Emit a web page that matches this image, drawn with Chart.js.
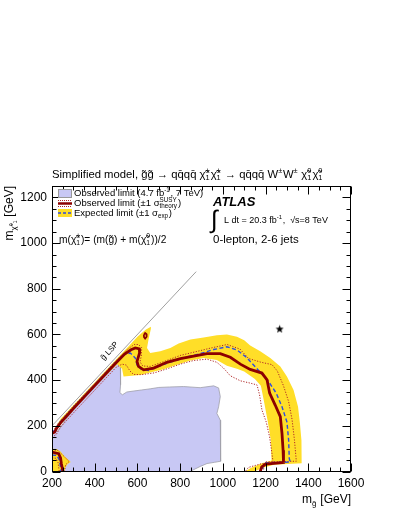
<!DOCTYPE html>
<html>
<head>
<meta charset="utf-8">
<script src="https://cdn.jsdelivr.net/npm/chart.js@4.4.0/dist/chart.umd.min.js"></script>
<style>
html, body { margin: 0; padding: 0; background: #fff; }
</style>
</head>
<body>
<canvas id="myChart" width="399" height="516"></canvas>
<script>
// axis ticks
const xTicks = [200, 400, 600, 800, 1000, 1200, 1400, 1600];
const yTicks = [0, 200, 400, 600, 800, 1000, 1200];

// observed limit 4.7 fb-1, 7 TeV (filled area)
const obs7X = [200, 200, 230, 262, 300, 350, 400, 450, 500, 520, 522, 520, 518, 530, 550, 580, 620, 660, 700, 750, 816, 894, 957, 980, 988, 980, 972, 988, 991, 988, 960, 926, 894, 863, 848];
const obs7Y = [0, 165, 180, 224, 272, 322, 372, 422, 472, 480, 430, 380, 345, 336, 348, 352, 357, 362, 368, 370, 372, 367, 375, 366, 328, 283, 254, 225, 166, 45, 40, 35, 22, 8, 0];

// expected limit +-1 sigma band (outer edge, then inner edge back)
const bandX = [200, 210, 222, 240, 300, 400, 500, 560, 600, 620, 640, 663, 663, 652, 645, 660, 707, 754, 793, 848, 910, 972, 1019, 1066, 1100, 1128, 1175, 1222, 1269, 1300, 1331, 1352, 1361, 1368, 1370, 1368, 1240, 1200, 1160, 1140, 1105, 1130, 1180, 1228, 1224, 1210, 1192, 1178, 1150, 1100, 1066, 1019, 972, 910, 848, 785, 722, 660, 613, 535, 528, 505, 400, 300, 240, 225, 210, 200];
const bandY = [172, 180, 200, 230, 290, 390, 490, 550, 590, 606, 622, 634, 625, 578, 541, 519, 526, 541, 560, 578, 587, 596, 600, 590, 575, 552, 526, 497, 460, 416, 357, 283, 210, 137, 45, 36, 30, 20, 5, 0, 0, 15, 35, 48, 140, 220, 310, 375, 405, 438, 450, 463, 488, 497, 486, 467, 448, 433, 423, 416, 450, 470, 370, 268, 206, 188, 166, 160];
const bandLowX = [200, 200, 222, 240, 260, 288, 272, 262, 258];
const bandLowY = [0, 100, 98, 88, 66, 42, 32, 15, 0];

// observed limit (solid)
const obsX = [200, 212, 222, 240, 300, 400, 500, 540, 570, 590, 609, 610, 598, 605, 629, 676, 738, 801, 863, 926, 988, 1035, 1082, 1128, 1183, 1207, 1219, 1245, 1269, 1277, 1282, 1284, 1240, 1200, 1182, 1175];
const obsY = [168, 172, 190, 213, 276, 376, 476, 514, 533, 541, 537, 519, 482, 460, 445, 453, 478, 494, 505, 516, 516, 500, 470, 447, 431, 401, 343, 291, 240, 166, 93, 40, 36, 32, 20, 0];
const obsLowX = [200, 231, 240, 244, 251];
const obsLowY = [85, 78, 60, 34, 0];
const obsLoopX = [630, 636, 642, 643, 636, 631, 630];
const obsLoopY = [598, 606, 602, 590, 582, 588, 598];

// expected limit (dashed)
const expX = [200, 214, 224, 240, 300, 400, 500, 540, 567, 590, 598, 617, 652, 699, 754, 832, 894, 957, 1019, 1066, 1110, 1160, 1214, 1250, 1277, 1300, 1308, 1311, 1316, 1260, 1200, 1188, 1182];
const expY = [174, 180, 196, 218, 280, 380, 480, 512, 519, 497, 467, 448, 442, 460, 479, 501, 516, 534, 546, 532, 500, 450, 394, 343, 283, 217, 137, 56, 41, 40, 37, 20, 0];
const expLowX = [200, 223, 236, 242];
const expLowY = [72, 70, 48, 0];

// observed limit +-1 sigma theory (dotted)
const theoUpX = [200, 216, 228, 300, 400, 500, 555, 585, 605, 620, 618, 612, 625, 660, 720, 800, 880, 950, 1020, 1080, 1120, 1180, 1230, 1255, 1284, 1308, 1324, 1335, 1344, 1300, 1250, 1200, 1192, 1190];
const theoUpY = [182, 190, 210, 286, 386, 486, 536, 556, 556, 542, 505, 480, 462, 460, 480, 508, 526, 542, 556, 536, 495, 478, 468, 440, 375, 306, 228, 140, 45, 44, 43, 42, 20, 0];
const theoDnX = [200, 220, 238, 300, 400, 500, 528, 548, 565, 582, 620, 680, 740, 800, 863, 926, 972, 1003, 1035, 1082, 1128, 1160, 1172, 1183, 1203, 1219, 1230, 1235, 1180, 1120, 1105];
const theoDnY = [150, 162, 192, 256, 356, 456, 470, 466, 440, 425, 424, 432, 450, 470, 486, 492, 478, 453, 419, 397, 387, 379, 335, 269, 217, 151, 78, 41, 34, 18, 0];
const theoUpLowX = [200, 228, 252, 280, 264, 258];
const theoUpLowY = [95, 92, 70, 44, 30, 0];
const theoDnLowX = [200, 218, 228, 234];
const theoDnLowY = [60, 58, 40, 0];

// gluino LSP line and the star
const lspX = [200, 875];
const lspY = [200, 875];
const starX = [1266];
const starY = [624];

const FONT = '"Liberation Sans", Arial, Helvetica, sans-serif';
const lavender = 'rgb(200,200,244)';
const yellow = 'rgb(255,222,40)';
const darkRed = 'rgb(140,0,0)';
const dotRed = 'rgb(175,40,40)';
const blue = 'rgb(45,75,225)';

function pts(xs, ys) {
    return xs.map((x, i) => ({x: x, y: ys[i]}));
}

function area(xs, ys, color, border, order) {
    return {
        data: pts(xs, ys), fill: 'shape', backgroundColor: color,
        borderColor: border || 'rgba(0,0,0,0)', borderWidth: border ? 0.8 : 1,
        pointRadius: 0, tension: 0, order: order
    };
}

function line(xs, ys, color, width, dash, order) {
    return {
        data: pts(xs, ys), fill: false, borderColor: color, borderWidth: width,
        borderDash: dash, pointRadius: 0, tension: 0, order: order
    };
}

// small black star used as point style
const starImg = document.createElement('canvas');
starImg.width = 9;
starImg.height = 9;
const sctx = starImg.getContext('2d');
sctx.beginPath();
for (let i = 0; i < 10; i++) {
    const r = i % 2 === 0 ? 4.3 : 1.8;
    const a = -Math.PI / 2 + i * Math.PI / 5;
    sctx.lineTo(4.5 + r * Math.cos(a), 4.8 + r * Math.sin(a));
}
sctx.closePath();
sctx.fillStyle = '#000';
sctx.fill();

// text with super/subscripts: parts are [text, kind], kind '' | '^' | '_' | '^_'
function rich(ctx, parts, x, y, size, draw) {
    let cx = x;
    const small = size * 0.66;
    parts.forEach(([t, k]) => {
        if (k === '') {
            ctx.font = size + 'px ' + FONT;
            if (draw) ctx.fillText(t, cx, y);
            cx += ctx.measureText(t).width;
        } else if (k === '^' || k === '_') {
            ctx.font = small + 'px ' + FONT;
            const dy = k === '^' ? -size * 0.36 : size * 0.3;
            if (draw) ctx.fillText(t, cx, y + dy);
            cx += ctx.measureText(t).width + 0.6;
        } else {
            ctx.font = small + 'px ' + FONT;
            if (draw) {
                ctx.fillText(t[0], cx, y - size * 0.36);
                ctx.fillText(t[1], cx, y + size * 0.3);
            }
            cx += Math.max(ctx.measureText(t[0]).width, ctx.measureText(t[1]).width) + 1;
        }
    });
    return cx - x;
}

const chi = '\u03c7\u0303';
const titleParts = [['Simplified model, g\u0303g\u0303 \u2192 qq\u0304qq\u0304 ' + chi, ''], [['\u00b1', '1'], '^_'], [chi, ''], [['\u00b1', '1'], '^_'],
    [' \u2192 qq\u0304qq\u0304 W', ''], ['\u00b1', '^'], ['W', ''], ['\u00b1', '^'], [' ' + chi, ''], [['0', '1'], '^_'], [chi, ''], [['0', '1'], '^_']];
const legendRows = [
    [['Observed limit (4.7 fb', ''], ['-1', '^'], [', 7 TeV)', '']],
    [['Observed limit (\u00b11 \u03c3', ''], [['SUSY', 'theory'], '^_'], [')', '']],
    [['Expected limit (\u00b11 \u03c3', ''], ['exp', '_'], [')', '']]
];
const massParts = [['m(' + chi, ''], [['\u00b1', '1'], '^_'], [')= (m(g\u0303) + m(' + chi, ''], [['0', '1'], '^_'], ['))/2', '']];
const lumiParts = [['L dt = 20.3 fb', ''], ['-1', '^'], [',  \u221as=8 TeV', '']];

const decorPlugin = {
    id: 'decor',
    afterDatasetsDraw(chart) {
        const ctx = chart.ctx;
        const a = chart.chartArea;
        const sx = chart.scales.x;
        const sy = chart.scales.y;
        ctx.save();
        ctx.fillStyle = '#000';
        ctx.strokeStyle = '#000';
        ctx.lineWidth = 1;
        ctx.textBaseline = 'middle';
        const L = Math.round(a.left) + 0.5, R = Math.round(a.right) - 0.5;
        const T = Math.round(a.top) + 0.5, B = Math.round(a.bottom) - 0.5;
        ctx.strokeRect(L, T, R - L, B - T);
        ctx.beginPath();
        for (let v = 200; v <= 1600; v += 50) {
            const px = Math.round(sx.getPixelForValue(v)) + 0.5;
            const len = v % 200 === 0 ? 8 : 4;
            ctx.moveTo(px, B); ctx.lineTo(px, B - len);
            ctx.moveTo(px, T); ctx.lineTo(px, T + len);
        }
        for (let v = 0; v <= 1250; v += 50) {
            const py = Math.round(sy.getPixelForValue(v)) + 0.5;
            const len = v % 200 === 0 ? 8 : 4;
            ctx.moveTo(L, py); ctx.lineTo(L + len, py);
            ctx.moveTo(R, py); ctx.lineTo(R - len, py);
        }
        ctx.stroke();

        // legend
        ctx.fillStyle = lavender;
        ctx.fillRect(58, 189, 14, 9);
        ctx.strokeStyle = '#999';
        ctx.strokeRect(58.5, 189.5, 13, 8);
        ctx.strokeStyle = dotRed;
        ctx.setLineDash([1, 1]);
        ctx.beginPath();
        ctx.moveTo(58, 200.5); ctx.lineTo(72, 200.5);
        ctx.moveTo(58, 206.5); ctx.lineTo(72, 206.5);
        ctx.stroke();
        ctx.setLineDash([]);
        ctx.strokeStyle = darkRed;
        ctx.lineWidth = 2.5;
        ctx.beginPath();
        ctx.moveTo(58, 203.5); ctx.lineTo(72, 203.5);
        ctx.stroke();
        ctx.fillStyle = yellow;
        ctx.fillRect(58, 209, 14, 8);
        ctx.strokeStyle = blue;
        ctx.lineWidth = 1.5;
        ctx.setLineDash([3, 2]);
        ctx.beginPath();
        ctx.moveTo(58, 213); ctx.lineTo(72, 213);
        ctx.stroke();
        ctx.setLineDash([]);
        ctx.fillStyle = '#000';
        legendRows.forEach((row, i) => rich(ctx, row, 74, 193.5 + i * 10, 9.5, true));
        rich(ctx, massParts, 59, 240, 10.2, true);

        // ATLAS text block
        ctx.font = 'bold italic 13px ' + FONT;
        ctx.fillText('ATLAS', 213, 202);
        ctx.font = '25px ' + FONT;
        ctx.fillText('\u222b', 211, 221);
        rich(ctx, lumiParts, 224, 221, 9, true);
        rich(ctx, [['0-lepton, 2-6 jets', '']], 213, 240, 11.5, true);

        // title
        rich(ctx, titleParts, 52, 175, 11.3, true);

        // gluino LSP label along the diagonal
        const p0x = sx.getPixelForValue(lspX[0]), p0y = sy.getPixelForValue(lspY[0]);
        const p1x = sx.getPixelForValue(lspX[1]), p1y = sy.getPixelForValue(lspY[1]);
        const ang = Math.atan2(p1y - p0y, p1x - p0x);
        ctx.save();
        ctx.translate(sx.getPixelForValue(470), sy.getPixelForValue(527));
        ctx.rotate(ang);
        ctx.textAlign = 'center';
        ctx.font = '8px ' + FONT;
        ctx.fillText('g\u0303 LSP', 0, 0);
        ctx.restore();

        // axis titles
        const xTitle = [['m', ''], ['g\u0303', '_'], [' [GeV]', '']];
        const wX = rich(ctx, xTitle, 0, 0, 12, false);
        rich(ctx, xTitle, a.right - wX, 500, 12, true);
        const yTitle = [['m', ''], [chi + '\u2070\u2081', '_'], [' [GeV]', '']];
        ctx.save();
        ctx.translate(10, a.top);
        ctx.rotate(-Math.PI / 2);
        const wY = rich(ctx, yTitle, 0, 0, 12, false);
        rich(ctx, yTitle, -wY, 0, 12, true);
        ctx.restore();
        ctx.restore();
    }
};

const chartConfig = {
    type: 'line',
    data: {
        datasets: [
            area(obs7X, obs7Y, lavender, 'rgb(160,160,170)', 20),
            area(bandX, bandY, yellow, null, 19),
            area(bandLowX, bandLowY, yellow, null, 18),
            line(lspX, lspY, 'rgb(160,160,160)', 1, [], 17),
            line(theoUpX, theoUpY, dotRed, 1, [1.2, 1.5], 10),
            line(theoDnX, theoDnY, dotRed, 1, [1.2, 1.5], 10),
            line(theoUpLowX, theoUpLowY, dotRed, 1, [1.2, 1.5], 10),
            line(theoDnLowX, theoDnLowY, dotRed, 1, [1.2, 1.5], 10),
            line(expX, expY, blue, 1.4, [4, 2.5], 8),
            line(expLowX, expLowY, blue, 1.4, [4, 2.5], 8),
            line(obsX, obsY, darkRed, 2.8, [], 6),
            line(obsLowX, obsLowY, darkRed, 2.8, [], 6),
            line(obsLoopX, obsLoopY, darkRed, 1.8, [], 6),
            {
                data: pts(starX, starY), showLine: false, pointStyle: starImg,
                pointRadius: 5, order: 1
            }
        ]
    },
    options: {
        responsive: false,
        animation: false,
        devicePixelRatio: 1,
        events: [],
        layout: {padding: {top: 186, right: 48, left: 0, bottom: 0}},
        plugins: {legend: {display: false}, tooltip: {enabled: false}},
        scales: {
            x: {
                type: 'linear', min: 200, max: 1600,
                grid: {display: false, drawTicks: false},
                border: {display: false},
                afterBuildTicks: s => { s.ticks = xTicks.map(v => ({value: v})); },
                afterFit: s => { s.height = 44.5; },
                ticks: {color: '#000', padding: 5, maxRotation: 0, font: {family: FONT, size: 12}, callback: v => String(v)}
            },
            y: {
                type: 'linear', min: 0, max: 1250,
                grid: {display: false, drawTicks: false},
                border: {display: false},
                afterBuildTicks: s => { s.ticks = yTicks.map(v => ({value: v})); },
                afterFit: s => { s.width = 52; },
                ticks: {color: '#000', padding: 5, font: {family: FONT, size: 12}, callback: v => String(v)}
            }
        }
    },
    plugins: [decorPlugin]
};

window.onload = () => {
    const chartContext = document.getElementById('myChart').getContext('2d');
    const myChart = new Chart(chartContext, chartConfig);
};
</script>
</body>
</html>
